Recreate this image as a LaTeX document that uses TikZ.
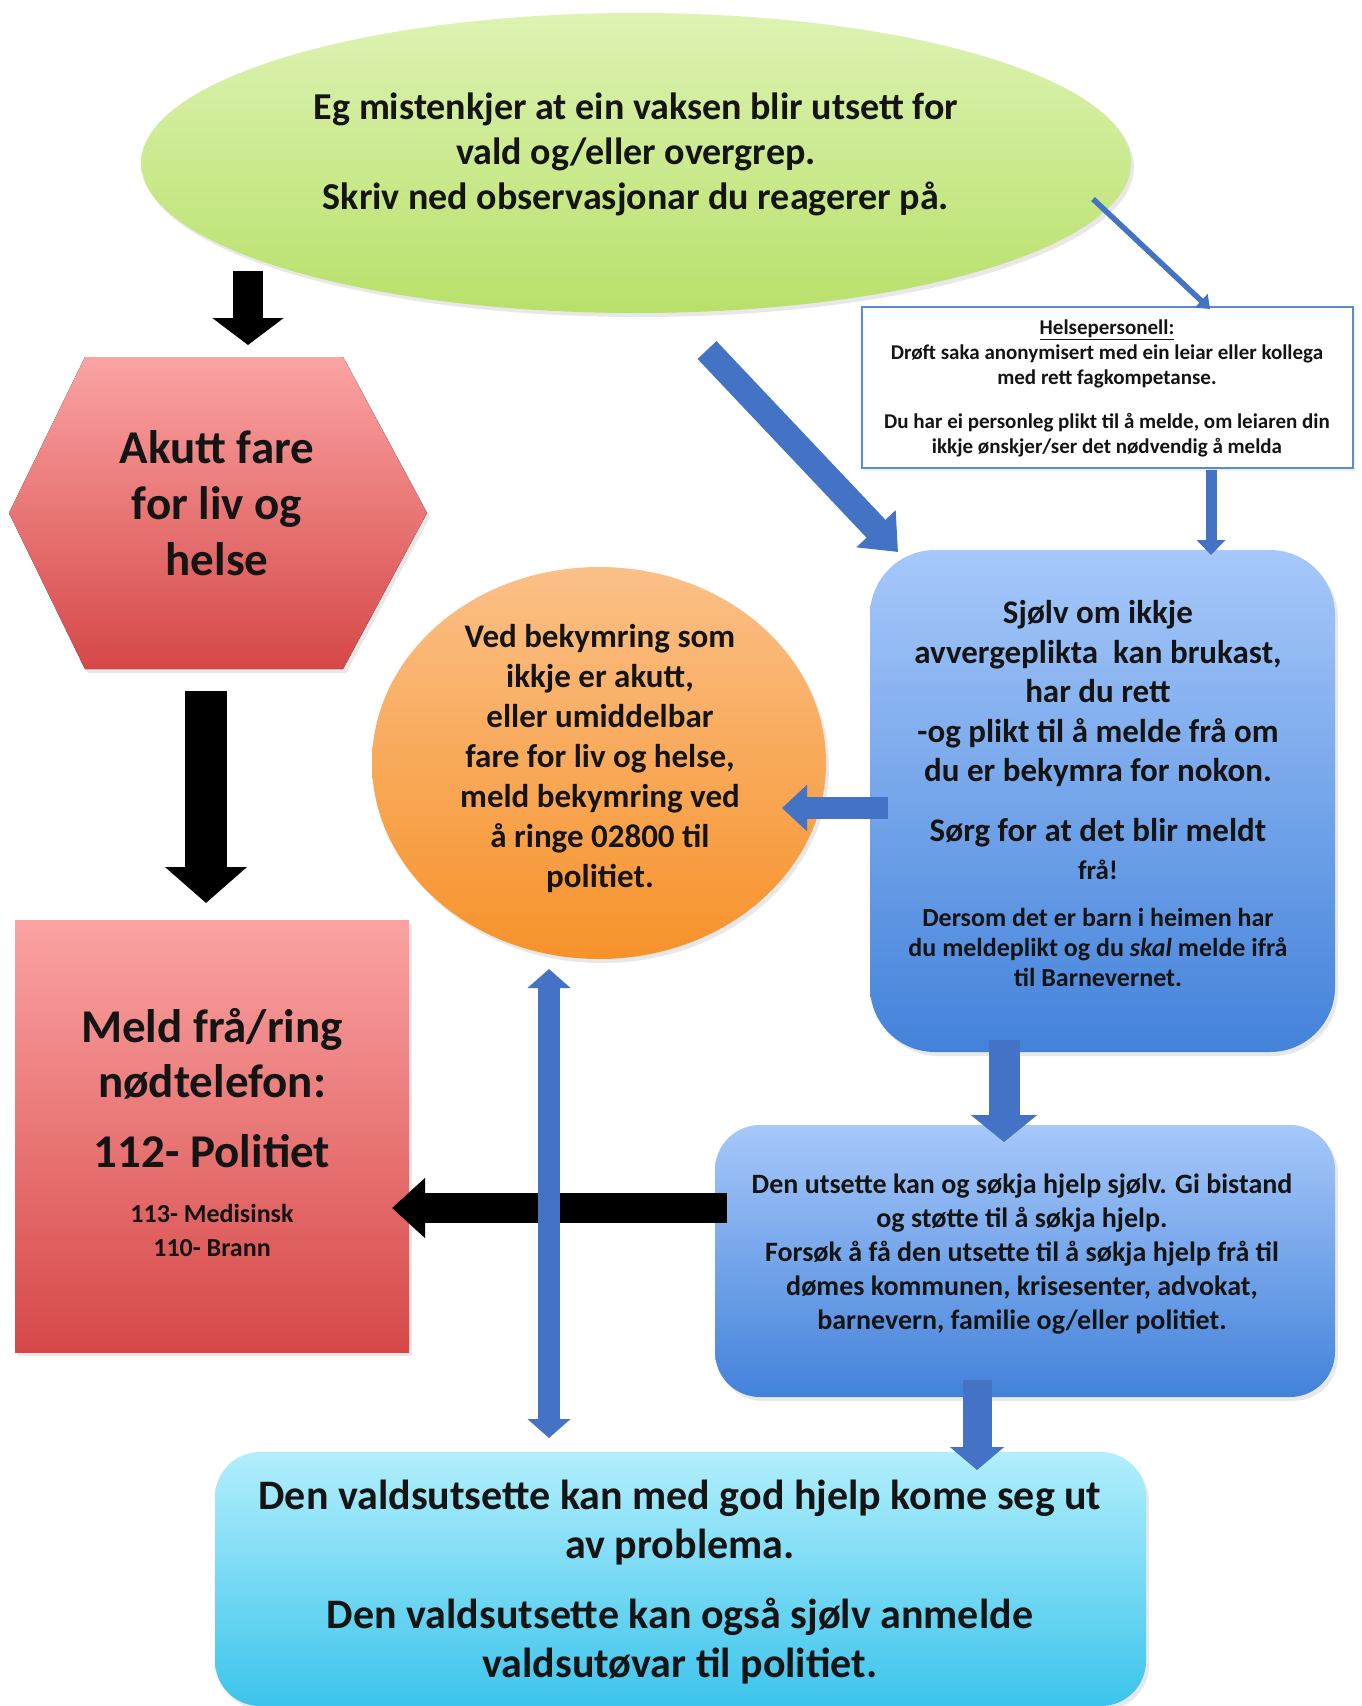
\documentclass[tikz,border=0pt]{standalone}
\usepackage{fontspec}
\setmainfont{Carlito}
\usetikzlibrary{shapes.geometric,arrows.meta,shadows}
\definecolor{arrowblue}{HTML}{4472C4}
\definecolor{helseblue}{HTML}{5B8BD0}
\definecolor{txtc}{HTML}{141414}
\definecolor{greenT}{HTML}{DDF3B3}
\definecolor{greenB}{HTML}{B9E06A}
\definecolor{redT}{HTML}{FBA3A3}
\definecolor{redB}{HTML}{D64848}
\definecolor{orangeT}{HTML}{FBC088}
\definecolor{orangeB}{HTML}{F7922A}
\definecolor{blueT}{HTML}{A6C8FA}
\definecolor{blueB}{HTML}{4382DA}
\definecolor{cyanT}{HTML}{B2EFFC}
\definecolor{cyanB}{HTML}{3CC4EC}
\tikzset{
  txt/.style={align=center, text=txtc, inner sep=0pt},
  shd/.style={drop shadow={opacity=0.18, shadow xshift=3pt, shadow yshift=-4pt}},
  shapebox/.style={inner sep=0pt, shd},
  blkarrow/.style={draw=black, line width=#1},
  bluarrow/.style={draw=arrowblue, line width=#1},
}
\begin{document}
\begin{tikzpicture}[x=1pt,y=-1pt]
\useasboundingbox[fill=white] (0,0) rectangle (1361,1706);

% ---------- shapes ----------
\node[ellipse, shapebox, top color=greenT, bottom color=greenB,
      minimum width=990pt, minimum height=300pt] (ell) at (636,163) {};
\node[txt, font=\fontsize{38}{45}\selectfont\bfseries] (ellT) at (636,154)
  {Eg mistenkjer at ein vaksen blir utsett for\\vald og/eller overgrep.\\Skriv ned observasjonar du reagerer på.};

\fill[top color=redT, bottom color=redB, shd]
  (85,357) -- (343,357) -- (427,513) -- (343,669) -- (85,669) -- (9,513) -- cycle;
\node[txt, font=\fontsize{47}{56}\selectfont\bfseries] (hexT) at (217,503)
  {Akutt fare\\for liv og\\helse};

\node[rectangle, shapebox, top color=redT, bottom color=redB,
      minimum width=394pt, minimum height=432pt] (red) at (212,1136) {};
\node[txt, font=\fontsize{47}{55}\selectfont\bfseries] (redT1) at (212,1054) {Meld frå/ring\\nødtelefon:};
\node[txt, font=\fontsize{47}{55}\selectfont\bfseries] (redT2) at (212,1151) {112- Politiet};
\node[txt, font=\fontsize{26}{34}\selectfont\bfseries] (redT3) at (212,1230) {113- Medisinsk\\110- Brann};

\node[ellipse, shapebox, top color=orangeT, bottom color=orangeB,
      minimum width=454pt, minimum height=392pt] (ora) at (599,763) {};
\node[txt, font=\fontsize{33}{40}\selectfont\bfseries] (oraT) at (600,759)
  {Ved bekymring som\\ikkje er akutt,\\eller umiddelbar\\fare for liv og helse,\\meld bekymring ved\\å ringe 02800 til\\politiet.};

\node[rectangle, draw=helseblue, line width=2.5pt, fill=white, inner sep=0pt,
      drop shadow={opacity=0.12, shadow xshift=2pt, shadow yshift=-3pt},
      minimum width=491pt, minimum height=161pt] (helse) at (1107.5,387.5) {};
\node[txt, font=\fontsize{21}{25}\selectfont\bfseries] (helseT1) at (1107,354)
  {\underline{Helsepersonell:}\\Drøft saka anonymisert med ein leiar eller kollega\\med rett fagkompetanse.};
\node[txt, font=\fontsize{21}{25}\selectfont\bfseries] (helseT2) at (1107,435)
  {Du har ei personleg plikt til å melde, om leiaren din\\ikkje ønskjer/ser det nødvendig å melda};

\node[rectangle, rounded corners=65pt, shapebox, top color=blueT, bottom color=blueB,
      minimum width=465pt, minimum height=502pt] (box1) at (1102.5,801) {};
\node[txt, font=\fontsize{33}{39.5}\selectfont\bfseries] (box1T1) at (1098,694)
  {Sjølv om ikkje\\avvergeplikta\ \ kan brukast,\\har du rett\\-og plikt til å melde frå om\\du er bekymra for nokon.};
\node[txt, font=\fontsize{33}{38}\selectfont\bfseries] (box1T2) at (1098,849)
  {Sørg for at det blir meldt\\{\fontsize{27}{30}\selectfont frå!}};
\node[txt, font=\fontsize{26}{30}\selectfont\bfseries] (box1T3) at (1098,947)
  {Dersom det er barn i heimen har\\du meldeplikt og du \textit{skal} melde ifrå\\til Barnevernet.};

\node[rectangle, rounded corners=45pt, shapebox, top color=blueT, bottom color=blueB,
      minimum width=620pt, minimum height=272pt] (box2) at (1025,1261) {};
\node[txt, font=\fontsize{28}{34}\selectfont\bfseries] (box2T) at (1022,1254)
  {Den utsette kan og søkja hjelp sjølv. Gi bistand\\og støtte til å søkja hjelp.\\Forsøk å få den utsette til å søkja hjelp frå til\\dømes kommunen, krisesenter, advokat,\\barnevern, familie og/eller politiet.};

\node[rectangle, rounded corners=45pt, shapebox, top color=cyanT, bottom color=cyanB,
      minimum width=931pt, minimum height=254pt] (bot) at (680.5,1579) {};
\node[txt, font=\fontsize{42}{49}\selectfont\bfseries] (botT1) at (680,1523)
  {Den valdsutsette kan med god hjelp kome seg ut\\av problema.};
\node[txt, font=\fontsize{42}{49}\selectfont\bfseries] (botT2) at (680,1641)
  {Den valdsutsette kan også sjølv anmelde\\valdsutøvar til politiet.};

% ---------- connector end points ----------
\coordinate (a1s) at (248,271);  \coordinate (a1e) at (248,345);
\coordinate (a2s) at (206,691);  \coordinate (a2e) at (206,903);
\coordinate (a3s) at (727,1208); \coordinate (a3e) at (392,1208);
\coordinate (d1s) at (707,350);  \coordinate (d1e) at (898,552);
\coordinate (t1s) at (1093,199); \coordinate (t1e) at (1210,309);
\coordinate (h1s) at (1211,470); \coordinate (h1e) at (1211,555);
\coordinate (o1s) at (888,808);  \coordinate (o1e) at (782,808);
\coordinate (b1s) at (1004,1040);\coordinate (b1e) at (1004,1142);
\coordinate (b2s) at (977,1380); \coordinate (b2e) at (977,1470);
\coordinate (v1s) at (549,969);  \coordinate (v1e) at (549,1438);

% ---------- connectors ----------
\draw[blkarrow=30pt, -{Triangle[width=70pt,length=27pt]}] (a1s) -- (a1e);
\draw[blkarrow=42pt, -{Triangle[width=80pt,length=36pt]}] (a2s) -- (a2e);
\draw[blkarrow=30pt, -{Triangle[width=58pt,length=33pt]}] (a3s) -- (a3e);

\draw[bluarrow=26pt, -{Triangle[width=52pt,length=32pt]}] (d1s) -- (d1e);
\draw[bluarrow=5.5pt, -{Triangle[width=18pt,length=12pt]}] (t1s) -- (t1e);
\draw[bluarrow=11pt, -{Triangle[width=28pt,length=15pt]}] (h1s) -- (h1e);
\draw[bluarrow=22pt, -{Triangle[width=45pt,length=25pt]}] (o1s) -- (o1e);
\draw[bluarrow=31pt, -{Triangle[width=65pt,length=27pt]}] (b1s) -- (b1e);
\draw[bluarrow=29pt, -{Triangle[width=53pt,length=23pt]}] (b2s) -- (b2e);
\draw[bluarrow=22pt, {Triangle[width=42pt,length=19pt]}-{Triangle[width=42pt,length=19pt]}] (v1s) -- (v1e);
\end{tikzpicture}
\end{document}
